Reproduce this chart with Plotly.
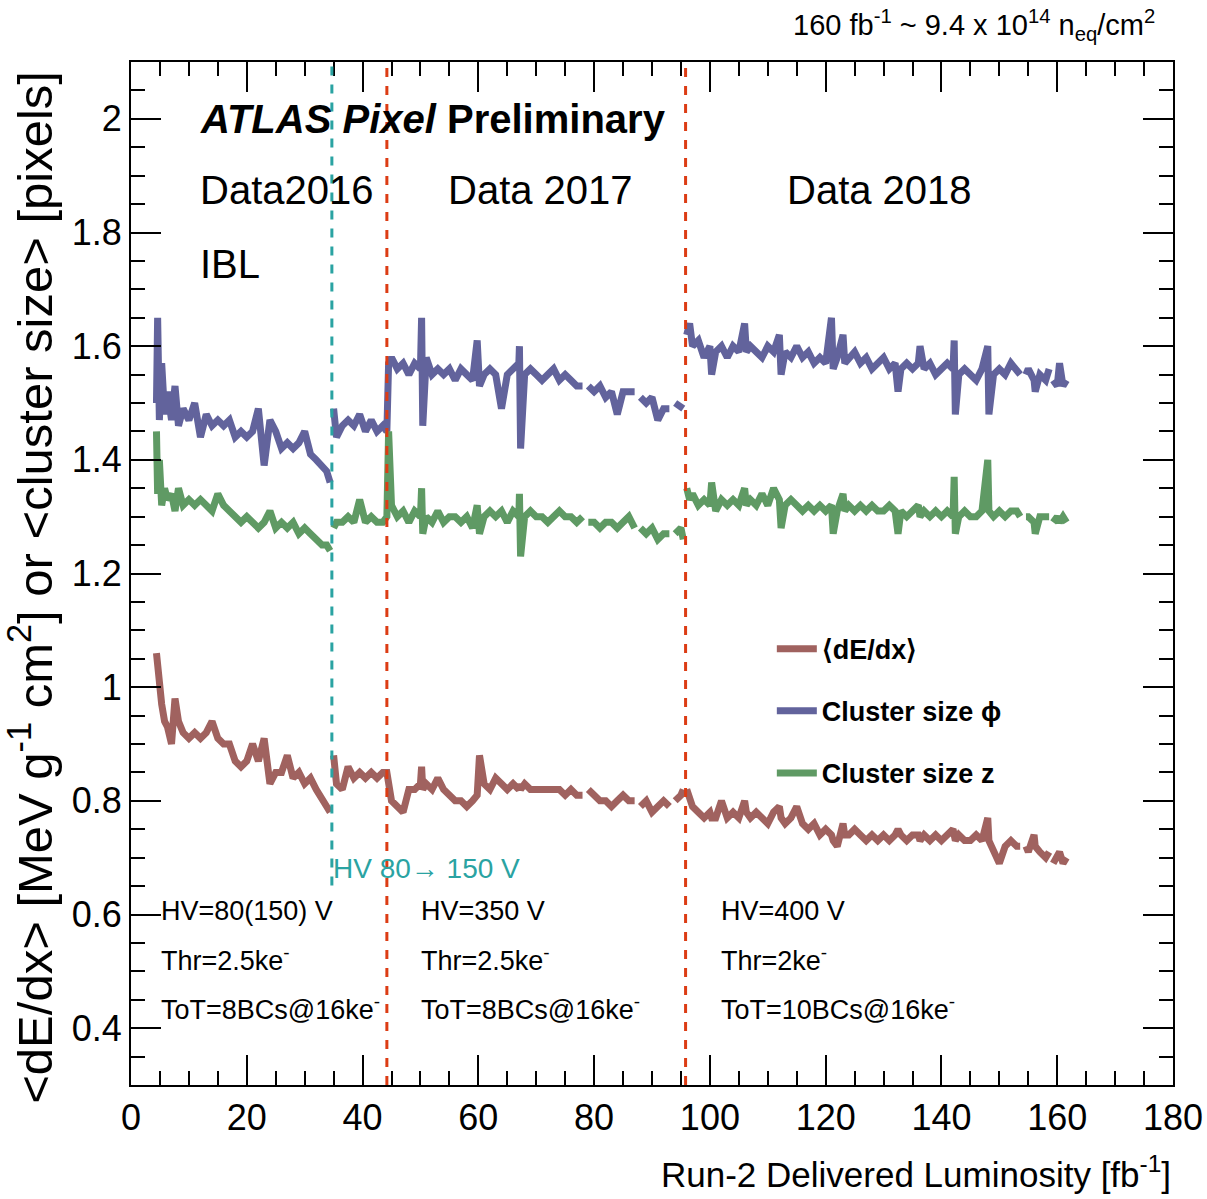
import plotly.graph_objects as go

# ---------------- data ----------------
# Run-2 delivered luminosity [fb^-1]; None rows mark gaps in the data
LUMI = [4.4, 4.6, 4.9, 5.3, 5.8, 6.3, 7, 7.6, 8.2, 9, 10, 11, 12, 13, 14, 15, 16, 17, 18, 19,
        20, 21, 22, 23, 24, 25, 26, 27, 28, 29, 30, 31, 32, 33, 33.8, 34.4, 34.7,
        35.0, 35.5, 36.5, 37.5, 38.5, 39.5, 40.5, 41.5, 42.5, 43.5, 44.2,
        44.5, 45, 46, 47, 48, 49, 50, 50.2, 50.4, 51, 52, 53, 54, 55, 56, 57, 58, 59, 59.8, 60.2,
        61, 62, 63, 64, 65, 66, 67, 67.1, 67.3, 68, 69, 70, 71, 72, 73, 74, 75, 76, 77, 78, 78.5,
        79, 80, 81, 82, 83, 84, 85, 86, 87, 87.5, 88, 89, 90, 91, 92, 93, 93.5, 94, 95, 95.4, 95.7,
        96, 96.5, 97, 98, 99, 100, 100.3, 101, 102, 103, 104, 105, 106, 106.3, 107, 108, 109, 110,
        111, 112, 112.3, 113, 114, 115, 116, 117, 118, 119, 120, 121, 121.3, 122, 123, 123.3, 124,
        125, 126, 127, 128, 129, 130, 131, 132, 132.5, 133, 134, 135, 136, 136.3, 137, 138, 139,
        140, 141, 142, 142.2, 142.4, 143, 144, 145, 146, 147, 148, 148.2, 149, 150, 151, 152, 153,
        153.6, 154.1, 154.6, 155, 156, 156.2, 157, 158, 158.6, 158.9, 159.3, 160, 160.4, 161, 161.6]

CLUSTER_PHI = [1.50, 1.65, 1.47, 1.57, 1.48, 1.52, 1.47, 1.53, 1.46, 1.49, 1.47, 1.50, 1.44, 1.48, 1.46, 1.47, 1.46, 1.47, 1.44, 1.45,
               1.44, 1.45, 1.49, 1.39, 1.47, 1.45, 1.42, 1.43, 1.42, 1.43, 1.45, 1.41, 1.40, 1.39, 1.38, 1.36, None,
               1.49, 1.44, 1.46, 1.47, 1.46, 1.48, 1.45, 1.47, 1.45, 1.46, 1.45,
               1.57, 1.58, 1.56, 1.57, 1.55, 1.57, 1.56, 1.65, 1.46, 1.58, 1.55, 1.56, 1.55, 1.56, 1.54, 1.56, 1.55, 1.54, 1.61, 1.53,
               1.55, 1.56, 1.55, 1.49, 1.55, 1.56, 1.57, 1.60, 1.42, 1.55, 1.56, 1.55, 1.54, 1.55, 1.56, 1.54, 1.55, 1.54, 1.53, 1.53, None,
               1.53, 1.52, 1.53, 1.51, 1.52, 1.48, 1.52, 1.52, 1.52, None, 1.51, 1.50, 1.51, 1.47, 1.49, 1.49, None, 1.50, 1.49, 1.49, None,
               1.62, 1.64, 1.60, 1.61, 1.58, 1.60, 1.55, 1.59, 1.60, 1.58, 1.60, 1.59, 1.64, 1.59, 1.60, 1.59, 1.58, 1.60,
               1.59, 1.62, 1.55, 1.59, 1.58, 1.60, 1.58, 1.59, 1.57, 1.58, 1.57, 1.65, 1.56, 1.58, 1.62, 1.57, 1.58,
               1.59, 1.57, 1.58, 1.56, 1.57, 1.58, 1.56, 1.57, 1.52, 1.56, 1.57, 1.56, 1.57, 1.60, 1.56, 1.57, 1.55,
               1.56, 1.57, 1.56, 1.61, 1.48, 1.55, 1.56, 1.55, 1.54, 1.56, 1.60, 1.48, 1.55, 1.56, 1.55, 1.57, 1.56,
               1.55, None, 1.55, 1.56, 1.54, 1.52, 1.55, 1.54, 1.56, None, 1.54, 1.53, 1.57, 1.53, 1.54]

CLUSTER_Z = [1.45, 1.34, 1.40, 1.32, 1.35, 1.33, 1.34, 1.31, 1.35, 1.32, 1.33, 1.32, 1.33, 1.32, 1.31, 1.34, 1.32, 1.31, 1.30, 1.29,
             1.30, 1.29, 1.28, 1.29, 1.31, 1.28, 1.29, 1.28, 1.29, 1.27, 1.28, 1.27, 1.26, 1.25, 1.25, 1.24, None,
             1.28, 1.29, 1.29, 1.30, 1.29, 1.33, 1.29, 1.30, 1.29, 1.29, 1.30,
             1.45, 1.32, 1.30, 1.31, 1.29, 1.31, 1.30, 1.35, 1.27, 1.30, 1.29, 1.31, 1.29, 1.30, 1.30, 1.29, 1.30, 1.28, 1.32, 1.27,
             1.30, 1.31, 1.30, 1.31, 1.29, 1.31, 1.30, 1.34, 1.23, 1.30, 1.31, 1.30, 1.30, 1.29, 1.30, 1.31, 1.30, 1.30, 1.29, 1.30, None,
             1.29, 1.29, 1.28, 1.29, 1.29, 1.28, 1.29, 1.30, 1.28, None, 1.28, 1.27, 1.28, 1.26, 1.27, 1.27, None, 1.27, 1.28, 1.26, None,
             1.35, 1.33, 1.34, 1.32, 1.33, 1.32, 1.36, 1.31, 1.33, 1.32, 1.33, 1.32, 1.35, 1.32, 1.33, 1.32, 1.34, 1.32,
             1.35, 1.33, 1.28, 1.32, 1.33, 1.32, 1.31, 1.32, 1.31, 1.32, 1.31, 1.32, 1.27, 1.31, 1.34, 1.31, 1.32,
             1.31, 1.32, 1.31, 1.32, 1.31, 1.31, 1.32, 1.31, 1.27, 1.31, 1.30, 1.31, 1.32, 1.30, 1.31, 1.30, 1.31,
             1.30, 1.31, 1.30, 1.37, 1.27, 1.30, 1.31, 1.30, 1.30, 1.31, 1.40, 1.31, 1.30, 1.31, 1.30, 1.31, 1.31,
             1.30, None, 1.30, 1.30, 1.29, 1.27, 1.30, 1.30, 1.30, None, 1.29, 1.30, 1.29, 1.30, 1.29]

DEDX = [1.06, 1.03, 0.99, 0.97, 0.94, 0.93, 0.90, 0.98, 0.94, 0.92, 0.91, 0.92, 0.91, 0.92, 0.94, 0.91, 0.90, 0.90, 0.87, 0.86,
        0.87, 0.90, 0.87, 0.91, 0.83, 0.85, 0.85, 0.88, 0.84, 0.85, 0.83, 0.84, 0.82, 0.80, 0.79, 0.78, None,
        0.88, 0.83, 0.82, 0.86, 0.84, 0.85, 0.84, 0.85, 0.84, 0.85, 0.85,
        0.83, 0.80, 0.79, 0.78, 0.82, 0.82, 0.83, 0.86, 0.82, 0.83, 0.82, 0.84, 0.82, 0.81, 0.80, 0.80, 0.79, 0.80, 0.81, 0.88,
        0.83, 0.82, 0.84, 0.83, 0.82, 0.83, 0.82, 0.83, 0.82, 0.83, 0.82, 0.82, 0.82, 0.82, 0.82, 0.82, 0.81, 0.82, 0.81, 0.81, None,
        0.82, 0.81, 0.80, 0.80, 0.79, 0.80, 0.81, 0.80, 0.80, None, 0.79, 0.80, 0.78, 0.79, 0.80, 0.79, None, 0.80, 0.81, 0.82, None,
        0.82, 0.80, 0.79, 0.78, 0.77, 0.78, 0.77, 0.77, 0.80, 0.77, 0.78, 0.77, 0.80, 0.78, 0.77, 0.78, 0.77, 0.76,
        0.78, 0.79, 0.77, 0.76, 0.77, 0.79, 0.76, 0.75, 0.76, 0.74, 0.75, 0.74, 0.73, 0.72, 0.76, 0.74, 0.74,
        0.75, 0.74, 0.73, 0.74, 0.73, 0.74, 0.73, 0.74, 0.75, 0.74, 0.73, 0.74, 0.74, 0.73, 0.74, 0.73, 0.74,
        0.73, 0.74, 0.75, 0.74, 0.73, 0.74, 0.73, 0.73, 0.74, 0.73, 0.77, 0.73, 0.71, 0.69, 0.72, 0.73, 0.72,
        0.72, None, 0.72, 0.71, 0.74, 0.72, 0.71, 0.70, 0.71, None, 0.69, 0.70, 0.71, 0.69, 0.70]

SERIES_NAMES = ["⟨dE/dx⟩", "Cluster size ϕ", "Cluster size z"]
X_TICKS = [0, 20, 40, 60, 80, 100, 120, 140, 160, 180]
Y_TICKS = [0.4, 0.6, 0.8, 1.0, 1.2, 1.4, 1.6, 1.8, 2.0]
Y_TICK_TEXT = ["0.4", "0.6", "0.8", "1", "1.2", "1.4", "1.6", "1.8", "2"]
PERIOD_BOUNDS = [34.7, 44.2, 95.8]   # HV change, 2016/2017, 2017/2018

# ---------------- styling ----------------
FONT = "Liberation Sans, Arial, Helvetica, sans-serif"
C_DEDX = "#a0625f"
C_PHI = "#62639c"
C_Z = "#5f9a64"
C_TEAL = "#2aa3a2"
C_RED = "#dc3c14"

fig = go.Figure()
for name, vals, col in zip(SERIES_NAMES, [DEDX, CLUSTER_PHI, CLUSTER_Z], [C_DEDX, C_PHI, C_Z]):
    fig.add_trace(go.Scatter(x=LUMI, y=vals, mode="lines", name=name, legendgroup=name,
                             connectgaps=False, line=dict(color=col, width=7)))

axis_common = dict(showline=True, linecolor="black", linewidth=2, mirror="allticks",
                   ticks="inside", ticklen=30, tickwidth=1.5, tickcolor="black",
                   showgrid=False, zeroline=False, automargin=False,
                   tickfont=dict(family=FONT, size=36, color="black"))

fig.update_xaxes(range=[0, 180], tickvals=X_TICKS,
                 minor=dict(dtick=5, ticklen=14, tickwidth=1.5, tickcolor="black", ticks="inside"),
                 **axis_common)
fig.update_yaxes(range=[0.3, 2.1], tickvals=Y_TICKS, ticktext=Y_TICK_TEXT,
                 minor=dict(dtick=0.05, tick0=0, ticklen=14, tickwidth=1.5, tickcolor="black", ticks="inside"),
                 **axis_common)

# vertical dashed period boundaries
fig.add_shape(type="line", xref="x", yref="paper", x0=PERIOD_BOUNDS[0], x1=PERIOD_BOUNDS[0],
              y0=0.195, y1=1, line=dict(color=C_TEAL, width=3, dash="dash"))
for xb in PERIOD_BOUNDS[1:]:
    fig.add_shape(type="line", xref="x", yref="paper", x0=xb, x1=xb, y0=0, y1=1,
                  line=dict(color=C_RED, width=3, dash="dash"))

def txt(x, y, text, size, color="black", xanchor="left", xref="x", yref="y", **kw):
    fig.add_annotation(x=x, y=y, xref=xref, yref=yref, text=text, showarrow=False,
                       xanchor=xanchor, yanchor="middle",
                       font=dict(family=FONT, size=size, color=color), **kw)

txt(11.6, 2.0, "<b><i>ATLAS Pixel</i> Preliminary</b>", 40)
txt(11.6, 1.875, "Data2016", 40)
txt(54.5, 1.875, "Data 2017", 40)
txt(113.0, 1.875, "Data 2018", 40)
txt(11.6, 1.745, "IBL", 40)
txt(34.6, 0.681, "HV 80→ 150 V", 28, color=C_TEAL)

blocks = [(4.9, ["HV=80(150) V", "Thr=2.5ke<sup>-</sup>", "ToT=8BCs@16ke<sup>-</sup>"]),
          (49.8, ["HV=350 V", "Thr=2.5ke<sup>-</sup>", "ToT=8BCs@16ke<sup>-</sup>"]),
          (101.5, ["HV=400 V", "Thr=2ke<sup>-</sup>", "ToT=10BCs@16ke<sup>-</sup>"])]
for xb, lines in blocks:
    for yv, t in zip([0.606, 0.521, 0.435], lines):
        txt(xb, yv, t, 27)

# x-axis title (right aligned under the axis)
txt(1.0, -0.085, "Run-2 Delivered Luminosity [fb<sup>-1</sup>]", 35, xanchor="right",
    xref="paper", yref="paper")
# y-axis title
fig.add_annotation(x=-0.096, y=0.487, xref="paper", yref="paper", textangle=-90, showarrow=False,
                   text="&lt;dE/dx&gt; [MeV g<sup>-1</sup> cm<sup>2</sup>] or &lt;cluster size&gt; [pixels]",
                   font=dict(family=FONT, size=49, color="black"), xanchor="center", yanchor="middle")
# top fluence note
txt(0.985, 1.036, "160 fb<sup>-1</sup> ~ 9.4 x 10<sup>14</sup> n<sub>eq</sub>/cm<sup>2</sup>", 29,
    xanchor="right", xref="paper", yref="paper")

fig.update_layout(
    width=1207, height=1199,
    margin=dict(l=131, r=34, t=62, b=114, autoexpand=False),
    plot_bgcolor="white", paper_bgcolor="white",
    showlegend=True,
    legend=dict(x=0.615, y=0.45, xanchor="left", yanchor="top", bgcolor="rgba(0,0,0,0)",
                font=dict(family=FONT, size=27, color="black", weight="bold"), tracegroupgap=24,
                itemwidth=40, traceorder="grouped"),
)

fig.write_html("out.html")
